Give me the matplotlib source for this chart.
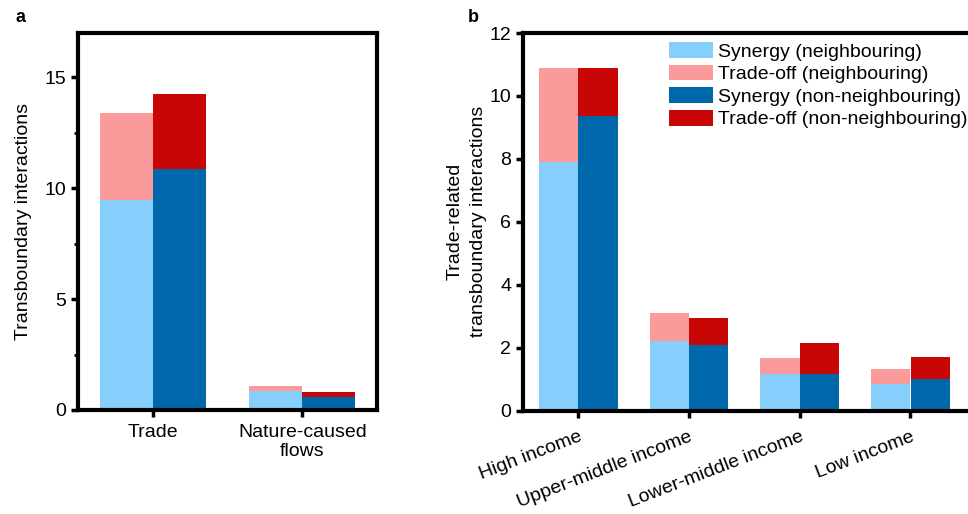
import matplotlib
matplotlib.use('Agg')
import matplotlib.pyplot as plt
import matplotlib.transforms as mtransforms
import numpy as np

plt.rcParams['font.family'] = ['Liberation Sans', 'DejaVu Sans']
plt.rcParams['font.size'] = 14

# panel a data
cats_a = ['Trade', 'Nature-caused\nflows']
syn_nb_a = [9.45, 0.87]
off_nb_a = [3.95, 0.22]
syn_nn_a = [10.85, 0.60]
off_nn_a = [3.40, 0.22]

# panel b data
cats_b = ['High income', 'Upper-middle income', 'Lower-middle income', 'Low income']
syn_nb_b = [7.90, 2.20, 1.17, 0.85]
off_nb_b = [3.00, 0.90, 0.51, 0.46]
syn_nn_b = [9.35, 2.10, 1.17, 1.01]
off_nn_b = [1.55, 0.84, 0.98, 0.70]

labels = ['Synergy (neighbouring)', 'Trade-off (neighbouring)',
          'Synergy (non-neighbouring)', 'Trade-off (non-neighbouring)']
colors = ['#86CFFC', '#FA9A9A', '#0068AA', '#C80606']

W, H = 968, 514
fig = plt.figure(figsize=(W / 100, H / 100), dpi=100)

bw = 0.355
off = 0.178


def draw(ax, cats, s1, o1, s2, o2):
    x = np.arange(len(cats))
    ax.bar(x - off, s1, bw, color=colors[0], linewidth=0, label=labels[0])
    ax.bar(x - off, o1, bw, bottom=s1, color=colors[1], linewidth=0, label=labels[1])
    ax.bar(x + off, s2, bw, color=colors[2], linewidth=0, label=labels[2])
    ax.bar(x + off, o2, bw, bottom=s2, color=colors[3], linewidth=0, label=labels[3])
    ax.set_xticks(x)
    for sp in ax.spines.values():
        sp.set_linewidth(3)
    ax.tick_params(axis='both', which='major', direction='out', length=5, width=2.5, labelsize=14)
    return x


# 子图 a
ax1 = fig.add_axes([78 / W, 1 - 410 / H, 299 / W, 377 / H])
draw(ax1, cats_a, syn_nb_a, off_nb_a, syn_nn_a, off_nn_a)
ax1.set_xticklabels(cats_a, linespacing=1.15)
ax1.tick_params(axis='x', pad=5)
ax1.set_xlim(-0.5, 1.5)
ax1.set_ylim(0, 17)
ax1.set_yticks([0, 5, 10, 15])
ax1.set_yticks([2.5, 7.5, 12.5], minor=True)
ax1.tick_params(axis='y', which='minor', direction='out', length=3, width=2)
ax1.set_ylabel('Transboundary interactions', fontsize=14)
ax1.yaxis.set_label_coords(-0.155, 0.5)
fig.text(15 / W, 1 - 18 / H, 'a', fontsize=13, fontweight='bold', va='center', ha='left')

# 子图 b (右边框被裁掉)
unit = 110.7
ax2 = fig.add_axes([523 / W, 1 - 410.7 / H, 4.1 * unit / W, 377.7 / H])
draw(ax2, cats_b, syn_nb_b, off_nb_b, syn_nn_b, off_nn_b)
ax2.set_xticklabels(cats_b, rotation=21, ha='right')
shift = mtransforms.ScaledTranslation(6 / 100, -6 / 100, fig.dpi_scale_trans)
for lab in ax2.get_xticklabels():
    lab.set_transform(lab.get_transform() + shift)
ax2.set_xlim(-0.5, 3.6)
ax2.set_ylim(0, 12)
ax2.set_yticks(range(0, 13, 2))
ax2.set_ylabel('Trade-related\ntransboundary interactions', fontsize=14, linespacing=1.45)
ax2.yaxis.set_label_coords(-0.08, 0.5)
fig.text(468 / W, 1 - 18 / H, 'b', fontsize=13, fontweight='bold', va='center', ha='left')

ax2.legend(loc='upper left', bbox_to_anchor=(669 / W, 1 - 42 / H),
           bbox_transform=fig.transFigure, frameon=False, fontsize=14,
           borderpad=0, borderaxespad=0, handlelength=2.27, handleheight=0.88,
           handletextpad=0.25, labelspacing=0.2)

fig.savefig('out.png', dpi=100)
